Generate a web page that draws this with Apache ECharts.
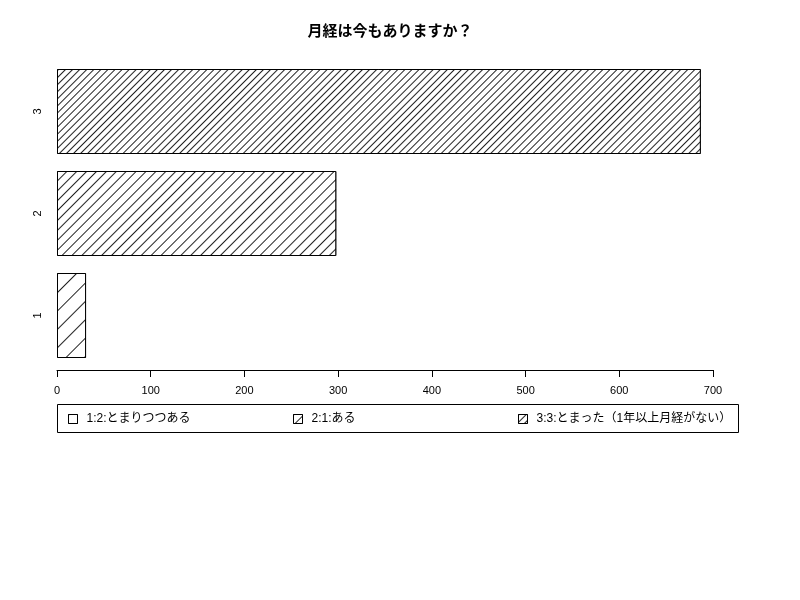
<!DOCTYPE html>
<html lang="ja">
<head>
  <meta charset="utf-8" />
  <title>月経は今もありますか？</title>
  <script src="https://cdn.jsdelivr.net/npm/echarts@6.0.0/dist/echarts.min.js"></script>
  <style>
    html, body { margin: 0; padding: 0; background: #fff; }
    #chart { width: 800px; height: 600px; }
  </style>
</head>
<body>
<div id="chart"></div>
<script type="text/javascript">
    // data
    var categories = ['1', '2', '3'];
    var seriesNames = ['1:2:とまりつつある', '2:1:ある', '3:3:とまった（1年以上月経がない）'];
    var counts = [31, 298, 687];
    var xTicks = { min: 0, max: 700, interval: 100 };
    // hatch line gap (px) for each bar, sparse to dense
    var hatchGaps = [12, 6, 4];
    var legendLeft = [63, 288, 513];

    var fontFam = "'Liberation Sans', 'Noto Sans CJK JP', sans-serif";

    var chart = echarts.init(document.getElementById('chart'));

    function hatch(gap) {
        return {
            symbol: 'rect',
            symbolSize: 1,
            color: '#222',
            backgroundColor: '#fff',
            dashArrayX: [1, 0],
            dashArrayY: [1, gap],
            rotation: -Math.PI / 4
        };
    }

    var series = [];
    var legends = [];
    for (var i = 0; i < categories.length; i++) {
        var data = categories.map(function (c, j) { return j === i ? counts[i] : null; });
        series.push({
            name: seriesNames[i],
            type: 'bar',
            stack: 'all',
            barWidth: 85,
            data: data,
            itemStyle: {
                color: '#fff',
                borderColor: '#000',
                borderWidth: 1,
                decal: hatch(hatchGaps[i])
            },
            emphasis: { disabled: true }
        });
        legends.push({
            left: legendLeft[i],
            top: 408,
            data: [seriesNames[i]],
            icon: 'rect',
            itemWidth: 9,
            itemHeight: 9,
            selectedMode: false,
            textStyle: { fontSize: 12, color: '#000', fontFamily: fontFam, padding: [0, 0, 0, 4] },
            itemStyle: { borderColor: '#000', borderWidth: 1 }
        });
    }

    var option = {
        animation: false,
        title: {
            text: '月経は今もありますか？',
            left: 385,
            top: 19,
            textAlign: 'center',
            textStyle: { fontSize: 15, fontWeight: 'bold', color: '#000', fontFamily: fontFam }
        },
        legend: legends,
        grid: { left: 57, right: 87, top: 60.5, bottom: 233.5 },
        xAxis: {
            type: 'value',
            min: xTicks.min,
            max: xTicks.max,
            interval: xTicks.interval,
            offset: 3.5,
            splitLine: { show: false },
            axisLine: { show: true, lineStyle: { color: '#000', width: 1 } },
            axisTick: { show: true, length: 7, lineStyle: { color: '#000' } },
            axisLabel: { color: '#000', fontSize: 11, margin: 15, fontFamily: fontFam }
        },
        yAxis: {
            type: 'category',
            data: categories,
            axisLine: { show: false },
            axisTick: { show: false },
            axisLabel: { color: '#000', fontSize: 11, rotate: 90, margin: 14, fontFamily: fontFam }
        },
        graphic: [{
            type: 'rect',
            shape: { x: 57.5, y: 404.5, width: 681, height: 28 },
            style: { fill: 'none', stroke: '#000', lineWidth: 1 },
            silent: true
        }],
        series: series
    };
    chart.setOption(option);
</script>
</body>
</html>
